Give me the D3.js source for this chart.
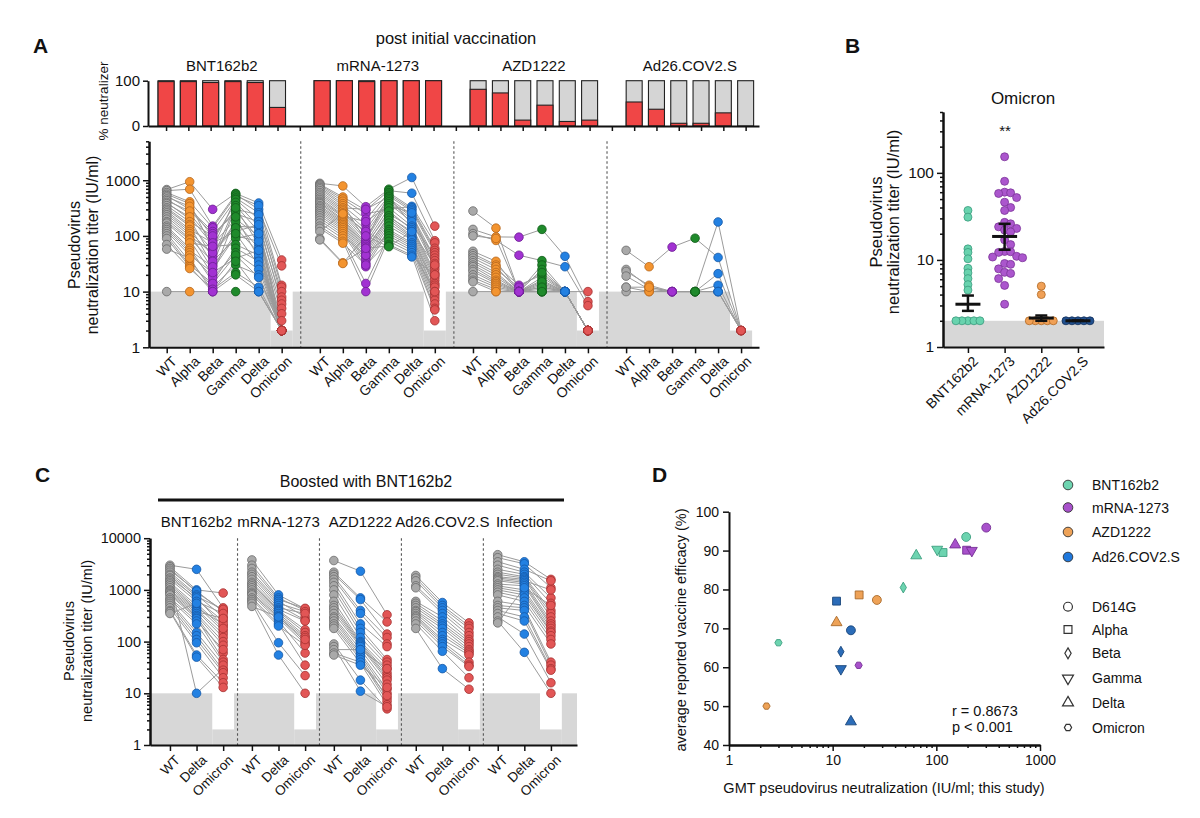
<!DOCTYPE html>
<html><head><meta charset="utf-8">
<script src="https://cdn.jsdelivr.net/npm/d3@7"></script>
<style>
body{margin:0;background:#fff;}
svg text{font-family:"Liberation Sans",Arial,sans-serif;fill:#111;}
</style></head><body>
<svg id="c" width="1200" height="818"></svg>
<script>
// ---------------- DATA ----------------
const variantsA = ["WT","Alpha","Beta","Gamma","Delta","Omicron"];
const vaccinesA = ["BNT162b2","mRNA-1273","AZD1222","Ad26.COV2.S"];
const pctBNT  = [98,98,96,98,96,41];
const pctMRNA = [100,100,98,100,100,100];
const pctAZD  = [81,73,13,46,10,13];
const pctAD26 = [53,37,6,6,29,0];
const pctTicks = [0,100];
const titerTicksA = [1,10,100,1000];

// subject-level titers [WT, Alpha, Beta, Gamma, Delta, Omicron]
const titersA_BNT = [
[680,940,300,580,390,37],[650,690,150,560,300,29],[600,410,140,520,350,13],[560,380,60,480,260,12],
[530,300,120,450,200,10],[500,340,95,300,240,8],[460,250,80,400,150,7],[430,280,110,250,180,6],
[400,200,40,350,120,5],[380,220,70,200,100,4],[350,180,100,280,90,3],[320,160,55,150,140,2],
[300,150,30,320,70,2],[280,130,75,120,160,2],[260,120,45,180,60,2],[240,110,25,100,80,2],
[220,100,50,140,50,2],[200,90,35,90,110,2],[180,85,20,220,40,2],[170,75,65,70,45,2],
[150,60,15,60,35,2],[140,55,28,110,30,2],[130,50,18,50,25,2],[120,45,22,40,55,2],
[110,35,12,30,20,2],[100,30,14,45,18,2],[90,28,10,35,10,2],[70,26,11,22,12,2],
[58,40,10,20,10,2],[10,10,10,10,10,2]];
const titersA_MRNA = [
[880,790,335,690,1120,150],[850,500,290,650,585,82],[820,460,250,300,340,75],[780,420,200,600,320,60],
[740,380,80,560,300,55],[700,350,160,520,280,50],[650,320,300,500,160,45],[600,300,130,470,240,40],
[560,280,110,440,220,36],[520,260,95,410,200,32],[480,240,85,380,180,28],[450,230,180,350,260,25],
[420,220,75,320,150,22],[400,200,70,250,140,20],[380,190,65,280,130,18],[350,180,60,220,120,16],
[330,170,55,230,110,14],[310,160,50,210,100,13],[290,150,45,190,95,12],[270,140,40,170,90,10],
[250,130,36,150,85,9],[230,120,32,130,75,8],[210,110,28,120,70,7],[190,100,45,110,65,6],
[170,90,14,100,60,5],[150,80,10,90,55,10],[137,74,30,80,50,4.7],[120,250,120,70,45,3],
[90,33,60,66,42,20],[85,32,100,64,120,30]];
const titersA_AZD = [
[280,138,10,10,10,2],[131,96,95,131,43,6.6],[110,83,45,36,28,5.6],[100,90,10,30,10,10],
[53,35,10,25,10,2],[48,30,13,20,10,2],[44,28,10,18,10,2],[40,25,12,22,10,2],
[36,22,10,16,10,2],[33,20,10,14,10,2],[30,18,10,12,10,2],[28,16,10,11,10,2],
[25,15,10,10,10,2],[23,14,10,13,10,2],[20,13,10,10,10,2],[18,12,10,15,10,2],
[16,11,10,10,10,2],[15,10,10,12,10,2],[10,10,10,10,10,2]];
const titersA_AD26 = [
[55,28,63,91,41,2],[25,12,10,10,178,2],[23,13,10,10,21,2],[19,11,10,10,13,2],
[12,10,10,10,10,2],[10,10,10,10,10,2],[12,12,10,10,10,2]];

// Panel B: Omicron titers after initial vaccination
const vaccinesB = ["BNT162b2","mRNA-1273","AZD1222","Ad26.COV2.S"];
const omicronB_BNT  = [37,31,13.4,12.2,10.3,8.0,7.1,6.1,5.2,4.5,2,2,2,2,2];
const omicronB_MRNA = [153,80,60,59,58,52,46,40,37,27,26,24,23,22,21,17,15,12.5,12.4,12.2,11,10.8,10.6,9.1,8.9,7.9,7.2,7.0,6.1,5.1,3.1];
const omicronB_AZD  = [5.0,4.0,2,2,2,2,2];
const omicronB_AD26 = [2,2,2,2,2];
const meanB  = [3.1,18.6,2.15,2.0];
const semLoB = [2.6,13.1,2.0,2.0];
const semHiB = [3.9,26.0,2.3,2.0];
const titerTicksB = [1,10,100];

// Panel C: boosted with BNT162b2 [WT, Delta, Omicron]
const variantsC = ["WT","Delta","Omicron"];
const groupsC = ["BNT162b2","mRNA-1273","AZD1222","Ad26.COV2.S","Infection"];
const titerTicksC = [1,10,100,1000,10000];
const titersC_BNT = [
[3000,2500,450],[2800,1000,870],[2600,900,400],[2400,950,380],[2200,800,300],[2000,750,420],
[1900,650,250],[1700,700,200],[1600,600,350],[1500,10,30],[1400,500,160],[1300,450,220],
[1200,420,140],[1100,400,120],[1000,380,280],[950,350,100],[900,320,85],[850,300,60],
[800,280,45],[700,250,70],[650,220,40],[600,150,35],[550,130,28],[500,110,25],
[450,95,20],[400,55,16],[380,50,13],[350,550,180]];
const titersC_MRNA = [
[3800,800,430],[3000,700,400],[2600,650,440],[2200,600,300],[2000,550,380],[1800,500,260],
[1600,450,350],[1400,420,250],[1300,400,170],[1200,380,150],[1100,350,130],[1000,320,120],
[900,300,100],[850,280,90],[800,250,60],[700,220,35],[650,200,85],[600,95,22],[550,55,10],[480,300,110]];
const titersC_AZD = [
[3700,2300,330],[2200,700,240],[2000,650,140],[1800,400,120],[1600,350,90],[1400,220,80],
[1200,180,45],[1000,150,40],[800,120,35],[600,100,30],[500,95,25],[450,90,22],
[400,85,20],[350,80,18],[300,70,15],[280,60,12],[250,55,10],[220,50,8],
[200,45,7],[180,38,6],[90,18,5],[80,11,5.5],[70,70,30],[60,40,9],[55,35,13]];
const titersC_AD26 = [
[1900,570,230],[1700,500,200],[1500,450,180],[1200,400,150],[1100,350,130],[600,300,110],
[550,250,100],[500,220,90],[450,200,80],[400,180,70],[380,150,65],[350,130,60],
[320,110,55],[300,100,40],[280,90,35],[250,80,33],[220,65,20],[180,30,12]];
const titersC_INF = [
[4800,3500,1600],[4200,3200,1100],[3500,2500,1500],[3000,2200,700],[2500,2000,550],[2200,1800,400],
[2000,1700,350],[1800,1600,300],[1700,1500,1000],[1600,1400,250],[1500,1300,220],[1300,1200,200],
[1200,1000,180],[1100,900,160],[1000,800,150],[900,700,130],[800,600,110],[600,500,90],
[500,450,40],[450,400,35],[400,300,30],[350,250,28],[300,140,16],[250,62,10],[230,1100,500]];

// Panel D: GMT vs efficacy; order D614G, Alpha, Beta, Gamma, Delta, Omicron
const variantsD = ["D614G","Alpha","Beta","Gamma","Delta","Omicron"];
const vaccinesD = ["BNT162b2","mRNA-1273","AZD1222","Ad26.COV2.S"];
const gmtD_BNT  = [194,116,48,102,64,3.0];
const effD_BNT  = [93.5,89.5,80.5,90.3,88.7,66.3];
const gmtD_MRNA = [303,196,null,220,152,17.8];
const effD_MRNA = [95.9,90.1,null,90.0,91.5,60.5];
const gmtD_AZD  = [26.7,18,null,null,10.9,2.3];
const effD_AZD  = [77.3,78.6,null,null,71.5,50.0];
const gmtD_AD26 = [15,10.9,12,12,15,null];
const effD_AD26 = [69.5,77.0,64.0,59.6,46.0,null];
const effTicksD = [40,50,60,70,80,90,100];
const gmtTicksD = [1,10,100,1000];

// ---------------- STYLE ----------------
const FONT = "Liberation Sans, Arial, sans-serif";
const varCol = {
  WT:["#a9a9a9","#6a6a6a"], Alpha:["#f39430","#b5661c"], Beta:["#a232d2","#6c1e92"],
  Gamma:["#1f8a2b","#115c1a"], Delta:["#2381e2","#1558a6"], Omicron:["#e25656","#a53131"]
};
const vacColB = [["#68d3ae","#3b9b7d"],["#ab56cd","#7b3498"],["#f0a056","#b06a26"],["#21508f","#132f58"]];
const swarmThrB = [3.2,6.5,3.2,3.2];
const vacColD = [["#6dd4b0","#3d9f80"],["#a851cb","#742e94"],["#eea257","#a86a2a"],["#2b6cb8","#17457a"]];
const vacColDLeg = ["#6dd4b0","#a851cb","#eea257","#1f78dc"];

const svg = d3.select("#c");

function styleAxis(sel, fs){
  sel.attr("font-family",FONT).attr("font-size",fs||13);
  sel.select(".domain").attr("stroke","#111").attr("stroke-width",2);
  sel.selectAll(".tick line").attr("stroke","#111").attr("stroke-width",1.5);
  sel.selectAll(".tick text").attr("fill","#111");
}
function minorLog(lo, hi){
  const out=[];
  for(let e=Math.floor(Math.log10(lo)); e<=Math.ceil(Math.log10(hi)); e++)
    for(let m=2;m<=9;m++){ const v=m*Math.pow(10,e); if(v>lo && v<=hi) out.push(v); }
  return out;
}
function logAxisLeft(x, y, majors, fs){
  const d = y.domain();
  svg.append("g").attr("transform",`translate(${x},0)`)
    .call(d3.axisLeft(y).tickValues(minorLog(d[0],d[1])).tickSize(3).tickFormat("").tickSizeOuter(0)).call(styleAxis);
  svg.append("g").attr("transform",`translate(${x},0)`)
    .call(d3.axisLeft(y).tickValues(majors).tickSize(6).tickPadding(3).tickFormat(d3.format("d")).tickSizeOuter(0))
    .call(s=>styleAxis(s,fs));
}
function rotLabels(xs, y, labels, fs){
  svg.append("g").selectAll("text").data(labels).join("text")
    .attr("transform",(d,i)=>`translate(${xs[i]+4},${y}) rotate(-45)`)
    .attr("text-anchor","end").attr("dy","0.72em").attr("font-size",fs).text(d=>d);
}
function text(x,y,s,fs,opts={}){
  const t = svg.append("text").attr("x",x).attr("y",y).attr("font-size",fs).text(s);
  if(opts.anchor) t.attr("text-anchor",opts.anchor);
  if(opts.bold) t.attr("font-weight","bold");
  if(opts.rot) t.attr("transform",`rotate(-90,${x},${y})`);
  return t;
}

// panel letters
text(33,53,"A",21,{bold:true});
text(845,53,"B",21,{bold:true});
text(35,482,"C",21,{bold:true});
text(652,482,"D",21,{bold:true});

// ---------------- PANEL A ----------------
const pctAll = [pctBNT,pctMRNA,pctAZD,pctAD26];
const titersAll = [titersA_BNT,titersA_MRNA,titersA_AZD,titersA_AD26];
const slotsPerGroup = 7;
const xTop = d3.scaleLinear().domain([-0.81,26.6]).range([148,759]);
const yTop = d3.scaleLinear().domain([0,100]).range([126,80.7]);
const barW = 16;

text(456,44,"post initial vaccination",16.5,{anchor:"middle"});
vaccinesA.forEach((v,g)=>{
  text(xTop(g*slotsPerGroup+2.5),71,v,15,{anchor:"middle"});
});
const gBars = svg.append("g");
pctAll.forEach((arr,g)=>{
  arr.forEach((p,i)=>{
    const cx = xTop(g*slotsPerGroup+i);
    gBars.append("rect").attr("x",cx-barW/2).attr("y",yTop(100)).attr("width",barW).attr("height",yTop(0)-yTop(100))
      .attr("fill","#d5d5d5").attr("stroke","#222").attr("stroke-width",1.1);
    if(p>0) gBars.append("rect").attr("x",cx-barW/2).attr("y",yTop(p)).attr("width",barW).attr("height",yTop(0)-yTop(p))
      .attr("fill","#f04646").attr("stroke","#222").attr("stroke-width",1.1);
  });
});
svg.append("g").attr("transform",`translate(148,0)`)
  .call(d3.axisLeft(yTop).tickValues(pctTicks).tickSize(5).tickPadding(3).tickSizeOuter(0)).call(s=>styleAxis(s,15));
svg.append("g").attr("transform",`translate(0,${yTop(0)})`)
  .call(d3.axisBottom(xTop).tickValues(d3.range(4*slotsPerGroup-1)).tickSize(5).tickFormat("").tickSizeOuter(0)).call(styleAxis);
text(108,101,"% neutralizer",13.5,{anchor:"middle",rot:true});

// lower scatter
const groupStepA = 6.66;
const xA = d3.scaleLinear().domain([-0.77,25.76]).range([149,759]);
const yA = d3.scaleLog().domain([1,5000]).range([347.3,141.3]);
const lod = 10, lodOmicron = 2, notchHalf = 0.48;
const gA = svg.append("g");
let prev = xA.domain()[0];
vaccinesA.forEach((v,g)=>{
  const om = g*groupStepA+5;
  [[prev,om-notchHalf,lod],[om-notchHalf,om+notchHalf,lodOmicron]].forEach(([a,b,l])=>{
    gA.append("rect").attr("x",xA(a)).attr("width",xA(b)-xA(a)).attr("y",yA(l)).attr("height",yA(1)-yA(l)).attr("fill","#d7d7d7");
  });
  prev = om+notchHalf;
});
for(let g=0; g<3; g++){
  const xm = xA((g*groupStepA+5 + (g+1)*groupStepA)/2);
  gA.append("line").attr("x1",xm).attr("x2",xm).attr("y1",yA(5000)).attr("y2",yA(1))
    .attr("stroke","#555").attr("stroke-width",1.1).attr("stroke-dasharray","2.5,2.5");
}
const lineA = d3.line().x(d=>xA(d[0])).y(d=>yA(d[1]));
titersAll.forEach((subs,g)=>{
  subs.forEach(s=>{
    gA.append("path").attr("d",lineA(s.map((v,i)=>[g*groupStepA+i,v]))).attr("fill","none").attr("stroke","#9b9b9b").attr("stroke-width",1);
  });
});
titersAll.forEach((subs,g)=>{
  variantsA.forEach((vn,i)=>{
    gA.append("g").selectAll("circle").data(subs.map(s=>s[i])).join("circle")
      .attr("cx",xA(g*groupStepA+i)).attr("cy",d=>yA(d)).attr("r",4.3)
      .attr("fill",varCol[vn][0]).attr("stroke",varCol[vn][1]).attr("stroke-width",0.8);
  });
});
logAxisLeft(149,yA,titerTicksA,15.5);
const posA = []; const labA = [];
vaccinesA.forEach((v,g)=>variantsA.forEach((vn,i)=>{posA.push(g*groupStepA+i); labA.push(vn);}));
svg.append("g").attr("transform",`translate(0,${yA(1)})`)
  .call(d3.axisBottom(xA).tickValues(posA).tickSize(6).tickFormat("").tickSizeOuter(0)).call(styleAxis);
rotLabels(posA.map(p=>xA(p)),355,labA,14);
text(80,245,"Pseudovirus",16,{anchor:"middle",rot:true});
text(98,245,"neutralization titer (IU/ml)",16,{anchor:"middle",rot:true});

// ---------------- PANEL B ----------------
const xB = d3.scaleLinear().domain([-0.68,3.71]).range([943,1104]);
const yB = d3.scaleLog().domain([1,500]).range([347,112]);
const dataB = [omicronB_BNT,omicronB_MRNA,omicronB_AZD,omicronB_AD26];
svg.append("rect").attr("x",xB(-0.68)).attr("width",xB(3.71)-xB(-0.68)).attr("y",yB(lodOmicron)).attr("height",yB(1)-yB(lodOmicron)).attr("fill","#d7d7d7");
function swarm(vals, y, sep, dyThr){
  const pts = vals.map(v=>({v, y:y(v)})).sort((a,b)=>a.y-b.y);
  const placed=[];
  pts.forEach(p=>{
    for(let k=0;k<40;k++){
      const off = (k%2===1? 1:-1)*Math.ceil(k/2)*sep;
      const ok = placed.every(q=>!(Math.abs(q.dx-off)<sep-0.01 && Math.abs(q.y-p.y)<dyThr));
      if(ok){ p.dx=off; break; }
    }
    placed.push(p);
  });
  return placed;
}
const gB = svg.append("g");
dataB.forEach((vals,i)=>{
  const pts = swarm(vals,yB,6,swarmThrB[i]);
  gB.append("g").selectAll("circle").data(pts).join("circle")
    .attr("cx",d=>xB(i)+d.dx).attr("cy",d=>d.y).attr("r",4)
    .attr("fill",vacColB[i][0]).attr("stroke",vacColB[i][1]).attr("stroke-width",0.8);
});
meanB.forEach((m,i)=>{
  const cx=xB(i);
  const g=gB.append("g").attr("stroke","#111");
  g.append("line").attr("x1",cx).attr("x2",cx).attr("y1",yB(semLoB[i])).attr("y2",yB(semHiB[i])).attr("stroke-width",2.5);
  g.append("line").attr("x1",cx-6).attr("x2",cx+6).attr("y1",yB(semLoB[i])).attr("y2",yB(semLoB[i])).attr("stroke-width",2.5);
  g.append("line").attr("x1",cx-6).attr("x2",cx+6).attr("y1",yB(semHiB[i])).attr("y2",yB(semHiB[i])).attr("stroke-width",2.5);
  g.append("line").attr("x1",cx-12.5).attr("x2",cx+12.5).attr("y1",yB(m)).attr("y2",yB(m)).attr("stroke-width",3);
});
logAxisLeft(943,yB,titerTicksB,15.5);
svg.append("g").attr("transform",`translate(0,${yB(1)})`)
  .call(d3.axisBottom(xB).tickValues([0,1,2,3]).tickSize(6).tickFormat("").tickSizeOuter(0)).call(styleAxis);
rotLabels([0,1,2,3].map(i=>xB(i)),355,vaccinesB,14);
text(1023,104,"Omicron",17,{anchor:"middle"});
text(1005,136,"**",15,{anchor:"middle"});
text(882,222,"Pseudovirus",16.5,{anchor:"middle",rot:true});
text(899,222,"neutralization titer (IU/ml)",16.5,{anchor:"middle",rot:true});

// ---------------- PANEL C ----------------
const titersCAll = [titersC_BNT,titersC_MRNA,titersC_AZD,titersC_AD26,titersC_INF];
const groupStepC = 3.08;
const xC = d3.scaleLinear().domain([-0.75,15.3]).range([150,577]);
const yC = d3.scaleLog().domain([1,10000]).range([745,538.2]);
const gC = svg.append("g");
prev = xC.domain()[0];
groupsC.forEach((v,g)=>{
  const om = g*groupStepC+2;
  [[prev,om-0.41,lod],[om-0.41,om+0.41,lodOmicron]].forEach(([a,b,l])=>{
    gC.append("rect").attr("x",xC(a)).attr("width",xC(b)-xC(a)).attr("y",yC(l)).attr("height",yC(1)-yC(l)).attr("fill","#d7d7d7");
  });
  prev = om+0.41;
});
gC.append("rect").attr("x",xC(prev)).attr("width",xC(xC.domain()[1])-xC(prev)).attr("y",yC(lod)).attr("height",yC(1)-yC(lod)).attr("fill","#d7d7d7");
for(let g=0; g<4; g++){
  const xm = xC((g*groupStepC+2 + (g+1)*groupStepC)/2);
  gC.append("line").attr("x1",xm).attr("x2",xm).attr("y1",yC(10000)).attr("y2",yC(1))
    .attr("stroke","#555").attr("stroke-width",1.1).attr("stroke-dasharray","2.5,2.5");
}
const lineC = d3.line().x(d=>xC(d[0])).y(d=>yC(d[1]));
titersCAll.forEach((subs,g)=>subs.forEach(s=>{
  gC.append("path").attr("d",lineC(s.map((v,i)=>[g*groupStepC+i,v]))).attr("fill","none").attr("stroke","#9b9b9b").attr("stroke-width",1);
}));
titersCAll.forEach((subs,g)=>variantsC.forEach((vn,i)=>{
  gC.append("g").selectAll("circle").data(subs.map(s=>s[i])).join("circle")
    .attr("cx",xC(g*groupStepC+i)).attr("cy",d=>yC(d)).attr("r",4.3)
    .attr("fill",varCol[vn][0]).attr("stroke",varCol[vn][1]).attr("stroke-width",0.8);
}));
logAxisLeft(150,yC,titerTicksC,14.5);
const posC=[], labC=[];
groupsC.forEach((v,g)=>variantsC.forEach((vn,i)=>{posC.push(g*groupStepC+i); labC.push(vn);}));
svg.append("g").attr("transform",`translate(0,${yC(1)})`)
  .call(d3.axisBottom(xC).tickValues(posC).tickSize(6).tickFormat("").tickSizeOuter(0)).call(styleAxis);
rotLabels(posC.map(p=>xC(p)),754,labC,13.5);
groupsC.forEach((v,g)=>text(xC(g*groupStepC+1),527,v,15,{anchor:"middle"}));
text(366,487,"Boosted with BNT162b2",16,{anchor:"middle"});
svg.append("line").attr("x1",158).attr("x2",564).attr("y1",500).attr("y2",500).attr("stroke","#111").attr("stroke-width",3);
text(74,641,"Pseudovirus",14.5,{anchor:"middle",rot:true});
text(92,641,"neutralization titer (IU/ml)",14.5,{anchor:"middle",rot:true});

// ---------------- PANEL D ----------------
const xD = d3.scaleLog().domain([1,1000]).range([729,1040]);
const yD = d3.scaleLinear().domain([40,100]).range([745,511.7]);
const hexagon = {draw(ctx,size){const r=Math.sqrt(size/2.598);for(let k=0;k<6;k++){const a=Math.PI/3*k;const px=r*Math.cos(a),py=r*Math.sin(a);k?ctx.lineTo(px,py):ctx.moveTo(px,py);}ctx.closePath();}};
const shapeD = [
  {type:d3.symbolCircle,size:62,rot:0},
  {type:d3.symbolSquare,size:62,rot:0},
  {type:d3.symbolDiamond,size:34,rot:0},
  {type:d3.symbolTriangle,size:52,rot:180},
  {type:d3.symbolTriangle,size:52,rot:0},
  {type:hexagon,size:34,rot:0}
];
const gmtAll=[gmtD_BNT,gmtD_MRNA,gmtD_AZD,gmtD_AD26], effAll=[effD_BNT,effD_MRNA,effD_AZD,effD_AD26];
const gD = svg.append("g");
gmtAll.forEach((arr,vi)=>arr.forEach((gm,k)=>{
  if(gm==null) return;
  const sh=shapeD[k];
  gD.append("path").attr("d",d3.symbol().type(sh.type).size(sh.size)())
    .attr("transform",`translate(${xD(gm)},${yD(effAll[vi][k])}) rotate(${sh.rot})`)
    .attr("fill",vacColD[vi][0]).attr("stroke",vacColD[vi][1]).attr("stroke-width",0.9);
}));
svg.append("g").attr("transform",`translate(729,0)`)
  .call(d3.axisLeft(yD).tickValues(effTicksD).tickSize(6).tickPadding(4).tickSizeOuter(0)).call(s=>styleAxis(s,14));
svg.append("g").attr("transform",`translate(0,745)`)
  .call(d3.axisBottom(xD).tickValues(minorLog(1,1000).filter(v=>v<1000)).tickSize(3).tickFormat("").tickSizeOuter(0)).call(styleAxis);
svg.append("g").attr("transform",`translate(0,745)`)
  .call(d3.axisBottom(xD).tickValues(gmtTicksD).tickSize(6).tickPadding(4).tickFormat(d3.format("d")).tickSizeOuter(0)).call(s=>styleAxis(s,14));
text(884,793,"GMT pseudovirus neutralization (IU/ml; this study)",14.5,{anchor:"middle"});
text(686,630,"average reported vaccine efficacy (%)",14.5,{anchor:"middle",rot:true});
text(952,716,"r = 0.8673",14.5);
text(952,732,"p < 0.001",14.5);
// legend
const legVacY = [485,507.5,532,557];
vaccinesD.forEach((v,i)=>{
  svg.append("circle").attr("cx",1068).attr("cy",legVacY[i]).attr("r",4.8).attr("fill",vacColDLeg[i]).attr("stroke","#333").attr("stroke-width",0.9);
  text(1092,legVacY[i]+5,v,14);
});
const legVarY = [606.7,629.5,653.3,678.3,702.7,727.5];
variantsD.forEach((v,k)=>{
  const sh=shapeD[k];
  svg.append("path").attr("d",d3.symbol().type(sh.type).size(sh.size)())
    .attr("transform",`translate(1068,${legVarY[k]}) rotate(${sh.rot})`)
    .attr("fill","#fff").attr("stroke","#333").attr("stroke-width",1.2);
  text(1092,legVarY[k]+5,v,14);
});
</script>
</body></html>
